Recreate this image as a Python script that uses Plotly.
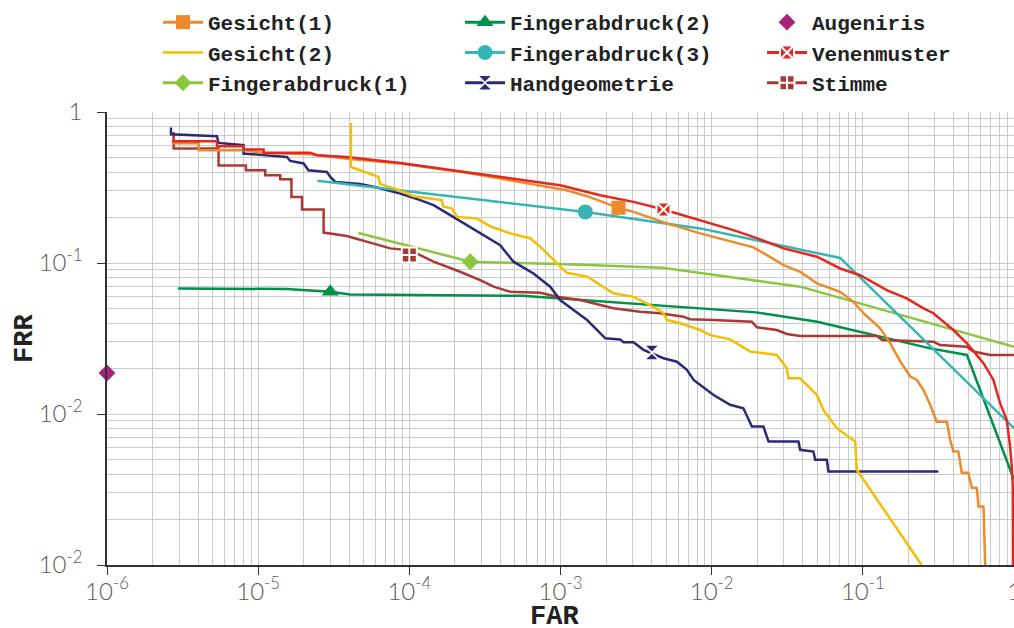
import plotly.graph_objects as go

# ---------------- data ----------------
# Gesicht(1)
g1_far = [2.69e-6, 4.04e-6, 4.04e-6, 8.22e-6, 1.08e-5, 2.21e-5, 3.86e-5, 8.71e-5, 2.40e-4, 3.99e-4,
          6.62e-4, 1.10e-3, 1.50e-3, 1.83e-3, 2.42e-3, 3.04e-3, 5.06e-3, 8.4e-3, 0.0139, 0.0189,
          0.0232, 0.0299, 0.0385, 0.0497, 0.0708, 0.0867, 0.101, 0.130, 0.152, 0.177, 0.206, 0.228,
          0.252, 0.279, 0.308, 0.360, 0.378, 0.397, 0.428, 0.452, 0.499, 0.526, 0.568, 0.582, 0.628,
          0.637, 0.645]
g1_frr = [0.621, 0.621, 0.558, 0.558, 0.535, 0.525, 0.49, 0.456, 0.396, 0.363,
          0.333, 0.303, 0.277, 0.258, 0.232, 0.218, 0.183, 0.157, 0.138, 0.127,
          0.1127, 0.0968, 0.0875, 0.0733, 0.0645, 0.0553, 0.0465, 0.0369, 0.0294, 0.0222, 0.0177, 0.0168,
          0.0144, 0.0115, 0.0089, 0.0089, 0.00675, 0.00564, 0.00564, 0.00409, 0.00409, 0.00323, 0.00323,
          0.00244, 0.00244, 0.00163, 0.001]
g1_mark = (2.42e-3, 0.232)

# Gesicht(2)
g2_far = [4.11e-5, 4.11e-5, 6.25e-5, 6.42e-5, 8.71e-5, 1.067e-4, 1.64e-4, 1.68e-4, 1.91e-4, 2.07e-4,
          2.80e-4, 3.43e-4, 4.65e-4, 6.30e-4, 7.35e-4, 9.46e-4, 1.10e-3, 1.50e-3, 1.83e-3, 2.24e-3,
          3.04e-3, 3.72e-3, 4.12e-3, 4.80e-3, 5.06e-3, 6.19e-3, 8.4e-3, 9.77e-3, 0.01324, 0.018,
          0.027, 0.0314, 0.0322, 0.0385, 0.0497, 0.0548, 0.0673, 0.089, 0.0912, 0.245]
g2_frr = [0.845, 0.432, 0.372, 0.333, 0.303, 0.277, 0.261, 0.236, 0.230, 0.202,
          0.197, 0.175, 0.157, 0.146, 0.128, 0.0993, 0.0861, 0.0811, 0.0715, 0.0630,
          0.0597, 0.0541, 0.0513, 0.0465, 0.0419, 0.0399, 0.036, 0.0333, 0.0312, 0.0259,
          0.0246, 0.0201, 0.01725, 0.01725, 0.01337, 0.01064, 0.00805, 0.00657, 0.00427, 0.001]

# Fingerabdruck(1)
f1_far = [4.61e-5, 2.53e-4, 9.95e-4, 4.72e-3, 0.0385, 1.0]
f1_frr = [0.158, 0.102, 0.0984, 0.0929, 0.0697, 0.0279]
f1_mark = (2.53e-4, 0.102)

# Fingerabdruck(2)
f2_far = [2.95e-6, 1.55e-5, 3.0e-5, 4.06e-5, 5.58e-4, 8.4e-3, 0.0197, 0.0499, 0.1117, 0.279, 0.488, 1.0]
f2_frr = [0.0679, 0.0672, 0.0645, 0.0619, 0.0606, 0.0501, 0.0471, 0.0408, 0.0339, 0.0272, 0.0246, 0.00366]
f2_mark = (3.0e-5, 0.0645)

# Fingerabdruck(3)
f3_far = [2.47e-5, 1.46e-3, 8.4e-3, 0.0708, 1.0]
f3_frr = [0.350, 0.218, 0.1695, 0.108, 0.00805]
f3_mark = (1.46e-3, 0.218)

# Handgeometrie
h_far = [2.65e-6, 2.65e-6, 5.34e-6, 5.47e-6, 8.0e-6, 8.0e-6, 1.55e-5, 1.63e-5, 2.0e-5, 2.15e-5,
         2.85e-5, 3.0e-5, 3.24e-5, 4.73e-5, 6.11e-5, 7.86e-5, 8.71e-5, 1.18e-4, 1.445e-4, 1.865e-4,
         2.40e-4, 3.10e-4, 3.99e-4, 4.89e-4, 6.62e-4, 8.55e-4, 9.95e-4, 1.22e-3, 1.50e-3, 1.98e-3,
         2.48e-3, 2.61e-3, 3.04e-3, 3.54e-3, 4.80e-3, 5.89e-3, 6.86e-3, 7.59e-3, 8.4e-3, 0.0103,
         0.01324, 0.0162, 0.01845, 0.022, 0.0238, 0.0375, 0.0385, 0.0471, 0.0484, 0.0578, 0.0592, 0.316]
h_frr = [0.789, 0.712, 0.690, 0.624, 0.603, 0.531, 0.504, 0.474, 0.456, 0.411,
         0.401, 0.372, 0.344, 0.333, 0.316, 0.296, 0.288, 0.261, 0.2415, 0.2075,
         0.178, 0.153, 0.131, 0.102, 0.0853, 0.0697, 0.0568, 0.0488, 0.0419, 0.0317,
         0.0312, 0.0299, 0.0299, 0.0266, 0.0234, 0.0222, 0.0196, 0.0168, 0.01558, 0.01337,
         0.0115, 0.01092, 0.00826, 0.00826, 0.00657, 0.00657, 0.00579, 0.00564, 0.00497, 0.00497, 0.00416, 0.00416]
h_mark = (4.02e-3, 0.0255)

# Augeniris (single operating point)
a_far = [1e-6]
a_frr = [0.0187]

# Venenmuster
v_far = [2.69e-6, 5.34e-6, 5.34e-6, 8.0e-6, 8.0e-6, 1.086e-5, 1.086e-5, 2.21e-5, 2.45e-5, 3.86e-5,
         8.71e-5, 2.40e-4, 6.0e-4, 9.95e-4, 1.83e-3, 3.04e-3, 4.80e-3, 8.4e-3, 0.0139, 0.0199,
         0.0299, 0.0497, 0.0708, 0.0959, 0.144, 0.195, 0.252, 0.293, 0.397, 0.488, 0.628, 0.731,
         0.809, 0.895, 0.942, 0.966, 0.982, 0.985]
v_frr = [0.64, 0.64, 0.593, 0.593, 0.564, 0.564, 0.538, 0.538, 0.518, 0.504,
         0.460, 0.401, 0.353, 0.327, 0.281, 0.254, 0.226, 0.192, 0.165, 0.146,
         0.125, 0.110, 0.092, 0.083, 0.0662, 0.0583, 0.0501, 0.0465, 0.036, 0.0294, 0.0217, 0.0168,
         0.0118, 0.00914, 0.00608, 0.00449, 0.00331, 0.001]
v_mark = (4.80e-3, 0.226)

# Stimme
s_far = [2.76e-6, 2.76e-6, 5.47e-6, 5.47e-6, 8.30e-6, 8.30e-6, 1.114e-5, 1.114e-5, 1.40e-5, 1.40e-5,
         1.66e-5, 1.66e-5, 1.95e-5, 1.95e-5, 2.71e-5, 2.71e-5, 3.86e-5, 5.25e-5, 6.5e-5, 7.48e-5,
         1.01e-4, 1.445e-4, 2.17e-4, 2.94e-4, 3.61e-4, 4.65e-4, 7.35e-4, 9.46e-4, 1.35e-3, 1.65e-3,
         2.24e-3, 3.37e-3, 4.56e-3, 6.50e-3, 7.21e-3, 0.0103, 0.01845, 0.0199, 0.027, 0.0314,
         0.0385, 0.124, 0.134, 0.293, 0.324, 0.488, 0.538, 0.695, 1.0]
s_frr = [0.738, 0.573, 0.573, 0.443, 0.443, 0.411, 0.411, 0.381, 0.381, 0.359,
         0.359, 0.274, 0.274, 0.226, 0.226, 0.159, 0.151, 0.138, 0.131, 0.125,
         0.1216, 0.102, 0.0875, 0.0771, 0.0697, 0.0645, 0.0635, 0.0597, 0.0568, 0.0541,
         0.0501, 0.0475, 0.0465, 0.0441, 0.0424, 0.0419, 0.0408, 0.0375, 0.036, 0.0339,
         0.0328, 0.0328, 0.0309, 0.0301, 0.0286, 0.0279, 0.0259, 0.0246, 0.0246]
s_mark = (1.0e-4, 0.113)

x_tickvals = [1e-6, 1e-5, 1e-4, 1e-3, 1e-2, 1e-1, 1]
x_ticktext = ["10<sup>-6</sup>", "10<sup>-5</sup>", "10<sup>-4</sup>", "10<sup>-3</sup>",
              "10<sup>-2</sup>", "10<sup>-1</sup>", "1"]
y_tickvals = [1e-3, 1e-2, 1e-1, 1]
y_ticktext = ["10<sup>-2</sup>", "10<sup>-2</sup>", "10<sup>-1</sup>", "1"]

# ---------------- figure ----------------
C_G1 = '#EE8A2C'
C_G2 = '#F5BE00'
C_F1 = '#8CC63E'
C_F2 = '#00904A'
C_F3 = '#36B4B6'
C_H = '#2B2A78'
C_A = '#A6247B'
C_V = '#E3281F'
C_S = '#AA3A31'

LW = 2.5
fig = go.Figure()


def curve(xs, ys, color):
    fig.add_trace(go.Scatter(x=xs, y=ys, mode='lines', line=dict(color=color, width=LW),
                             showlegend=False, hoverinfo='skip'))


def mark(name, pt, color, symbol, size, legend, rank, lw=0):
    fig.add_trace(go.Scatter(x=[pt[0]], y=[pt[1]], name=name, mode='lines+markers',
                             line=dict(color=color, width=3),
                             marker=dict(symbol=symbol, size=size, color=color,
                                         line=dict(color='white', width=lw)),
                             legend=legend, legendrank=rank))


# lines (draw order)
curve(f2_far, f2_frr, C_F2)
curve(f1_far, f1_frr, C_F1)
curve(s_far, s_frr, C_S)
curve(h_far, h_frr, C_H)
curve(f3_far, f3_frr, C_F3)
curve(g1_far, g1_frr, C_G1)
curve(v_far, v_frr, C_V)
# Gesicht(2) line carries its own legend entry (no marker)
fig.add_trace(go.Scatter(x=g2_far, y=g2_frr, name='Gesicht(2)', mode='lines',
                         line=dict(color=C_G2, width=LW), legend='legend', legendrank=2))

# markers + legend entries
mark('Gesicht(1)', g1_mark, C_G1, 'square', 14, 'legend', 1)
mark('Fingerabdruck(1)', f1_mark, C_F1, 'diamond', 13, 'legend', 3)
mark('Fingerabdruck(2)', f2_mark, C_F2, 'triangle-up', 15, 'legend2', 1)
mark('Fingerabdruck(3)', f3_mark, C_F3, 'circle', 15, 'legend2', 2)
mark('Handgeometrie', h_mark, C_H, 'hourglass', 15, 'legend2', 3, lw=1.5)
fig.add_trace(go.Scatter(x=a_far, y=a_frr, name='Augeniris', mode='markers', cliponaxis=False,
                         marker=dict(symbol='diamond', size=13, color=C_A),
                         legend='legend3', legendrank=1))
mark('Venenmuster', v_mark, C_V, 'square-x', 14, 'legend3', 2, lw=2)
mark('Stimme', s_mark, C_S, 'square-cross', 15, 'legend3', 3, lw=2)

GRID = '#CBCBCB'
TICKFONT = dict(family='Lato', size=24, color='#5A5A5A', weight=300)
LEGFONT = dict(family='Liberation Mono', size=21, color='#222222', weight='bold')

fig.update_xaxes(type='log', range=[-6, 0], tickmode='array', tickvals=x_tickvals,
                 ticktext=x_ticktext, tickfont=TICKFONT, ticks='outside', ticklen=8,
                 tickcolor='#333333', showline=True, linecolor='#333333', linewidth=1.5,
                 showgrid=True, gridcolor=GRID, gridwidth=1,
                 minor=dict(dtick='D1', showgrid=True, gridcolor=GRID, gridwidth=1, ticks=''),
                 automargin=False, zeroline=False, ticklabelstandoff=-4,
                 ticklabeloverflow='allow')
fig.update_yaxes(type='log', range=[-3, 0], tickmode='array', tickvals=y_tickvals,
                 ticktext=y_ticktext, tickfont=TICKFONT, ticks='outside', ticklen=8,
                 tickcolor='#333333', showline=True, linecolor='#333333', linewidth=1.5,
                 showgrid=True, gridcolor=GRID, gridwidth=1,
                 minor=dict(dtick='D1', showgrid=True, gridcolor=GRID, gridwidth=1, ticks=''),
                 automargin=False, zeroline=False, ticklabelstandoff=10)

# page body margin is removed (see post_script), so figure px == window px
FIG_W, FIG_H = 1014, 628
PL, PR, PT, PB = 107, 1014, 112, 565  # plot area in pixels


def px_x(p):
    return (p - PL) / (PR - PL)


def px_y(p):
    return (PB - p) / (PB - PT)


common_leg = dict(xref='paper', yref='paper', xanchor='left', yanchor='top',
                  font=LEGFONT, bgcolor='rgba(0,0,0,0)', tracegroupgap=0, itemwidth=40,
                  orientation='v')
LEG_TOP = 2
fig.update_layout(
    width=FIG_W, height=FIG_H,
    margin=dict(l=PL, r=FIG_W - PR, t=PT, b=FIG_H - PB, autoexpand=False),
    paper_bgcolor='white', plot_bgcolor='white',
    showlegend=True,
    legend=dict(x=px_x(158), y=px_y(LEG_TOP), **common_leg),
    legend2=dict(x=px_x(460), y=px_y(LEG_TOP), **common_leg),
    legend3=dict(x=px_x(762), y=px_y(LEG_TOP), **common_leg),
    annotations=[
        dict(text='<b>FAR</b>', xref='paper', yref='paper', x=px_x(554), y=px_y(617),
             showarrow=False, xanchor='center', yanchor='middle',
             font=dict(family='Liberation Mono', size=27, color='#222222')),
        dict(text='<b>FRR</b>', xref='paper', yref='paper', x=px_x(25), y=px_y(339),
             showarrow=False, xanchor='center', yanchor='middle', textangle=-90,
             font=dict(family='Liberation Mono', size=27, color='#222222')),
    ],
)

fig.write_html('out.html', config={'displayModeBar': False},
               post_script="document.body.style.margin='0';document.body.style.overflow='hidden';")
